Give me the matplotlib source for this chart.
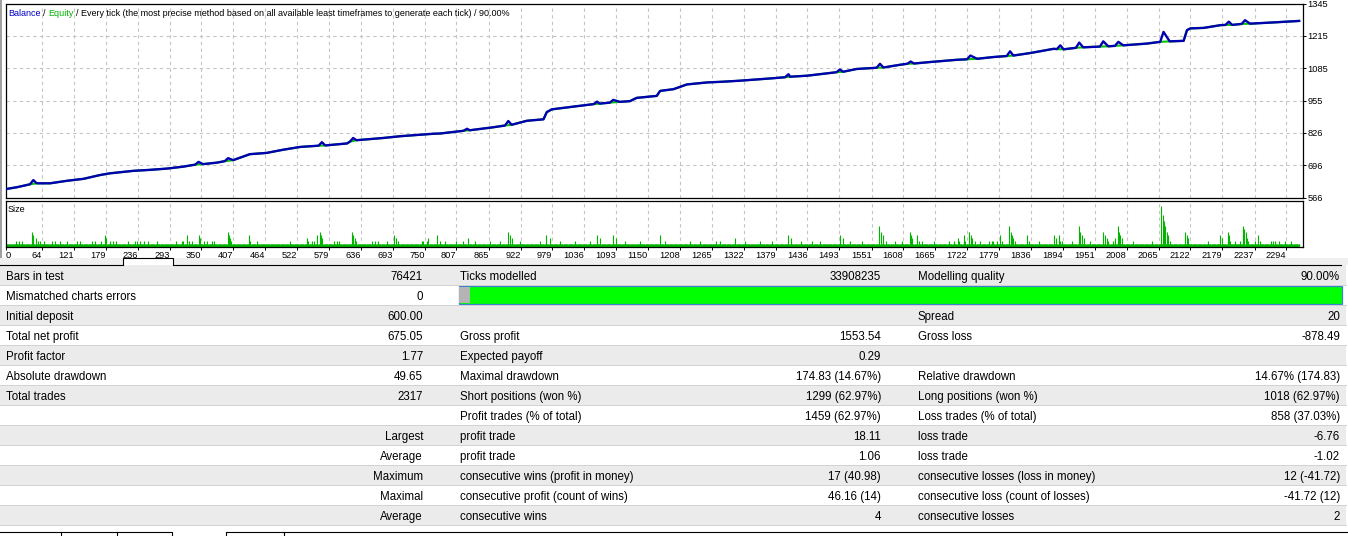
import numpy as np
import matplotlib.pyplot as plt
from matplotlib.patches import Rectangle

plt.rcParams['font.family'] = ['Liberation Sans', 'DejaVu Sans']

W, H = 1348, 536

# balance curve: (trade number, balance)
balance = [
    (0, 600), (19, 607), (43, 619), (49, 636), (55, 623), (79, 623), (109, 633), (139, 641), (168, 656), (186, 663),
    (228, 673), (258, 677), (288, 682), (318, 690), (339, 698), (345, 709), (353, 700), (378, 706), (392, 712), (398, 724),
    (407, 716), (437, 740), (467, 745), (497, 758), (527, 769), (560, 774), (566, 788), (572, 775), (611, 783), (616, 790),
    (622, 805), (628, 796), (676, 805), (706, 812), (766, 822), (778, 823), (820, 834), (826, 842), (831, 836), (873, 848),
    (894, 855), (900, 873), (906, 858), (933, 874), (963, 880), (969, 909), (978, 920), (1017, 931), (1053, 941), (1059, 951),
    (1064, 943), (1082, 947), (1088, 958), (1100, 950), (1118, 953), (1130, 966), (1166, 974), (1172, 994), (1196, 1001), (1220, 1020),
    (1256, 1028), (1285, 1031), (1315, 1035), (1375, 1045), (1396, 1049), (1402, 1061), (1405, 1051), (1435, 1055), (1488, 1069), (1494, 1080),
    (1500, 1071), (1524, 1082), (1560, 1087), (1566, 1103), (1572, 1088), (1602, 1099), (1615, 1103), (1621, 1112), (1627, 1104), (1656, 1110),
    (1704, 1119), (1722, 1121), (1728, 1136), (1740, 1123), (1769, 1130), (1793, 1134), (1799, 1153), (1805, 1136), (1835, 1146), (1877, 1163),
    (1883, 1162), (1889, 1177), (1895, 1161), (1917, 1167), (1923, 1188), (1930, 1169), (1960, 1172), (1966, 1193), (1975, 1173), (1987, 1175),
    (1993, 1191), (2002, 1177), (2044, 1184), (2068, 1191), (2074, 1231), (2085, 1193), (2110, 1195), (2116, 1238), (2122, 1245), (2146, 1247),
    (2176, 1258), (2185, 1259), (2191, 1272), (2197, 1259), (2214, 1263), (2220, 1278), (2229, 1264), (2271, 1269), (2317, 1275),
]
# balance peaks that the equity line stays under
peak_trades = [49, 345, 398, 566, 622, 826, 900, 1059, 1088, 1402, 1494, 1566, 1621,
               1728, 1799, 1889, 1923, 1966, 1993, 2074, 2191, 2220]

n_trades = 2317
base_lot = 0.01
# trades with a bigger lot than the base one: (trade number, lot)
size_spikes = [
    (18, .02), (24, .02), (29, .02), (47, .05), (49, .04), (53, .03), (58, .02), (61, .02), (68, .02), (82, .02),
    (88, .02), (97, .02), (110, .02), (127, .02), (133, .02), (154, .02), (160, .02), (171, .02), (177, .04), (180, .03),
    (186, .02), (192, .02), (197, .02), (218, .02), (231, .02), (234, .02), (240, .02), (248, .02), (255, .02), (270, .02),
    (305, .02), (315, .02), (318, .02), (324, .04), (327, .02), (333, .02), (345, .04), (348, .03), (354, .02), (360, .02),
    (369, .02), (372, .02), (397, .05), (399, .04), (401, .03), (404, .02), (436, .04), (438, .02), (449, .02), (508, .02),
    (539, .03), (542, .02), (548, .02), (551, .02), (557, .04), (563, .05), (564, .04), (567, .03), (587, .02), (593, .02),
    (596, .02), (620, .05), (622, .04), (625, .03), (628, .02), (655, .02), (661, .02), (667, .02), (682, .02), (695, .04),
    (699, .03), (703, .02), (745, .02), (748, .02), (754, .02), (757, .03), (772, .04), (778, .02), (787, .02),
    (806, .02), (819, .02), (828, .03), (840, .02), (867, .02), (885, .02), (900, .05), (903, .04), (907, .03), (921, .02),
    (957, .02), (968, .04), (975, .03), (993, .02), (1020, .02), (1047, .02), (1059, .04), (1064, .03), (1088, .04), (1093, .03),
    (1109, .02), (1136, .02), (1172, .04), (1181, .02), (1226, .02), (1244, .02), (1272, .02), (1279, .02), (1306, .03), (1324, .02),
    (1351, .02), (1373, .02), (1402, .04), (1407, .03), (1424, .02), (1444, .02), (1459, .02), (1494, .04), (1500, .03), (1512, .02),
    (1534, .02), (1564, .07), (1568, .05), (1572, .04), (1577, .02), (1593, .02),
    (1605, .02), (1619, .05), (1621, .04), (1624, .03), (1632, .04), (1635, .02), (1641, .02), (1662, .02), (1689, .02), (1698, .02),
    (1705, .03), (1708, .02), (1717, .04), (1719, .02), (1726, .05), (1729, .04), (1731, .03), (1736, .02), (1745, .02), (1762, .02),
    (1766, .02), (1769, .02), (1775, .02), (1781, .04), (1784, .02), (1798, .07), (1800, .05), (1803, .04), (1805, .03), (1808, .02),
    (1830, .04), (1833, .02), (1850, .02), (1878, .04), (1882, .03), (1886, .04), (1889, .02), (1892, .02), (1910, .02), (1922, .07),
    (1925, .05), (1928, .04), (1931, .03), (1943, .02), (1966, .05), (1969, .04), (1972, .03), (1975, .02), (1984, .02), (1987, .03),
    (1992, .07), (1994, .05), (1996, .04), (1999, .03), (2019, .02), (2053, .02), (2070, .14), (2073, .11), (2075, .09), (2077, .07),
    (2080, .05), (2082, .04), (2085, .02), (2113, .05), (2116, .04), (2118, .03), (2153, .02), (2175, .04), (2178, .03), (2189, .05),
    (2191, .04), (2193, .02), (2202, .02), (2211, .02), (2216, .07), (2218, .06), (2221, .05), (2223, .03), (2226, .02), (2238, .02),
    (2244, .04), (2247, .02), (2266, .02), (2270, .02), (2274, .02), (2280, .02), (2292, .02), (2302, .02),
]

y_ticks = [566, 696, 826, 955, 1085, 1215, 1345]
x_ticks = [0, 64, 121, 179, 236, 293, 350, 407, 464, 522, 579, 636, 693, 750, 807, 865, 922, 979, 1036, 1093,
           1150, 1208, 1265, 1322, 1379, 1436, 1493, 1551, 1608, 1665, 1722, 1779, 1836, 1894, 1951, 2008, 2065,
           2122, 2179, 2237, 2294]

header_parts = [
    ('Balance', '#0000c8'), (' / ', 'black'), ('Equity', '#00b400'),
    (' / Every tick (the most precise method based on all available least timeframes to generate each tick) / 90.00%', 'black'),
]

col1_labels = ['Bars in test', 'Mismatched charts errors', 'Initial deposit', 'Total net profit', 'Profit factor',
               'Absolute drawdown', 'Total trades', '', 'Largest', 'Average', 'Maximum', 'Maximal', 'Average']
col1_values = ['76421', '0', '600.00', '675.05', '1.77', '49.65', '2317', '', '', '', '', '', '']
col2_labels = ['Ticks modelled', '', '', 'Gross profit', 'Expected payoff', 'Maximal drawdown',
               'Short positions (won %)', 'Profit trades (% of total)', 'profit trade', 'profit trade',
               'consecutive wins (profit in money)', 'consecutive profit (count of wins)', 'consecutive wins']
col2_values = ['33908235', '', '', '1553.54', '0.29', '174.83 (14.67%)', '1299 (62.97%)', '1459 (62.97%)',
               '18.11', '1.06', '17 (40.98)', '46.16 (14)', '4']
col3_labels = ['Modelling quality', '', 'Spread', 'Gross loss', '', 'Relative drawdown', 'Long positions (won %)',
               'Loss trades (% of total)', 'loss trade', 'loss trade', 'consecutive losses (loss in money)',
               'consecutive loss (count of losses)', 'consecutive losses']
col3_values = ['90.00%', '', '20', '-878.49', '', '14.67% (174.83)', '1018 (62.97%)', '858 (37.03%)',
               '-6.76', '-1.02', '12 (-41.72)', '-41.72 (12)', '2']

BLUE = '#0000b0'
GREEN = '#00b400'
GRID = '#c4c4c4'

fig = plt.figure(figsize=(W / 100, H / 100), dpi=100)

# background in pixel coordinates
bg = fig.add_axes([0, 0, 1, 1], zorder=0)
bg.set_xlim(0, W)
bg.set_ylim(H, 0)
bg.axis('off')


def px_axes(x0, y0, x1, y1):
    return fig.add_axes([x0 / W, 1 - y1 / H, (x1 - x0) / W, (y1 - y0) / H], zorder=2)


ax = px_axes(6, 3.5, 1302.5, 197.5)
sz = px_axes(6, 200.5, 1302.5, 246.5)

bt = np.array([p[0] for p in balance])
bv = np.array([p[1] for p in balance])
flat = ~np.isin(bt, peak_trades)

ax.plot(bt[flat], bv[flat], color='#00c800', lw=1.5, zorder=2)
ax.plot(bt, bv, color=BLUE, lw=1.7, zorder=3)

xmax = n_trades + 6
for a in (ax, sz):
    a.set_xlim(0, xmax)
    a.set_xticks(x_ticks)
    a.grid(True, axis='x', color=GRID, linestyle=(0, (3, 3)), lw=0.8)
    a.set_axisbelow(True)
    for s in a.spines.values():
        s.set_linewidth(0.9)
        s.set_color('black')

ax.set_ylim(y_ticks[0], y_ticks[-1])
ax.set_yticks(y_ticks)
ax.grid(True, axis='y', color=GRID, linestyle=(0, (3, 3)), lw=0.8)
ax.yaxis.tick_right()
ax.tick_params(axis='x', bottom=False, labelbottom=False)
ax.tick_params(axis='y', length=2.2, width=0.7, pad=1.5, labelsize=6.7)

trades = np.arange(1, n_trades + 1)
lots = np.full(n_trades, base_lot)
for t, lot in size_spikes:
    lots[t - 1] = lot
sz.vlines(trades, 0, lots, colors=GREEN, lw=0.8)
sz.set_ylim(0, 0.16)
sz.set_yticks([])
sz.set_xticklabels([str(v) for v in x_ticks])
sz.tick_params(axis='x', length=2.2, width=0.7, pad=1.0, labelsize=6.7)
for i, lab in enumerate(sz.get_xticklabels()):
    lab.set_ha('left' if i == 0 else 'right')

# header with coloured words; each piece starts where its first visible
# character sits in the full line ('X' keeps trailing spaces measurable)
renderer = fig.canvas.get_renderer()
x0 = 8
hfs = 6.5


def text_width(s):
    t = fig.text(0, 0, s, fontsize=hfs)
    w = t.get_window_extent(renderer).width
    t.remove()
    return w


wx = text_width('X')
prefix = ''
for s, c in header_parts:
    lead = s[:len(s) - len(s.lstrip())]
    start = prefix + lead
    x = x0 + (text_width(start + 'X') - wx if start else 0)
    fig.text(x / W, 1 - 16 / H, s.strip(), color=c, fontsize=hfs, va='baseline', zorder=5)
    prefix += s
fig.text(8 / W, 1 - 212 / H, 'Size', fontsize=hfs, va='baseline', zorder=5)

# window frame and tab strip
bg.add_patch(Rectangle((0, 0), 2, 263, color='#a0a0a0', lw=0))
bg.add_patch(Rectangle((0, 258), W, 7, color='#f0f0f0', lw=0))
bg.plot([0, 122.7], [264.5, 264.5], color='black', lw=0.8)
bg.plot([173.3, 1341], [264.5, 264.5], color='black', lw=0.8)
bg.add_patch(Rectangle((122.7, 258), 50.6, 8, facecolor='white', edgecolor='black', lw=0.8))

# statistics table
fs = 8.3
kw = dict(va='baseline', fontsize=fs)
for i in range(len(col1_labels)):
    y0 = 265 + 20 * i
    bg.add_patch(Rectangle((0, y0), 1346, 20, color='#ebebeb' if i % 2 == 0 else 'white', lw=0))
    bg.plot([0, 1346], [y0 + 20, y0 + 20], color='#d2d2d2', lw=0.7)
    yb = y0 + 15
    if i >= 8:
        bg.text(423, yb, col1_labels[i], ha='right', **kw)
    else:
        bg.text(6.5, yb, col1_labels[i], ha='left', **kw)
    bg.text(423, yb, col1_values[i], ha='right', **kw)
    bg.text(460.5, yb, col2_labels[i], ha='left', **kw)
    bg.text(881, yb, col2_values[i], ha='right', **kw)
    bg.text(918, yb, col3_labels[i], ha='left', **kw)
    bg.text(1340, yb, col3_values[i], ha='right', **kw)

# modelling quality bar
bx0, bx1 = 458.5, 1341.5
bg.add_patch(Rectangle((bx0, 286), bx1 - bx0, 18, facecolor='#00ff00', edgecolor='#3c82d2', lw=0.9))
bg.add_patch(Rectangle((bx0 + 0.8, 286.8), 11, 16.4, facecolor='#b4b4b4', lw=0))

# bottom tabs
bg.add_patch(Rectangle((0, 525), W, 11, color='white', lw=0))
bg.plot([0, 172, 172], [532, 532, 537], color='black', lw=0.8)
bg.plot([226, 226, W], [537, 532, 532], color='black', lw=0.8)
for xv in (61, 117, 284):
    bg.plot([xv, xv], [532, 537], color='black', lw=0.8)

fig.savefig('out.png', dpi=100)
